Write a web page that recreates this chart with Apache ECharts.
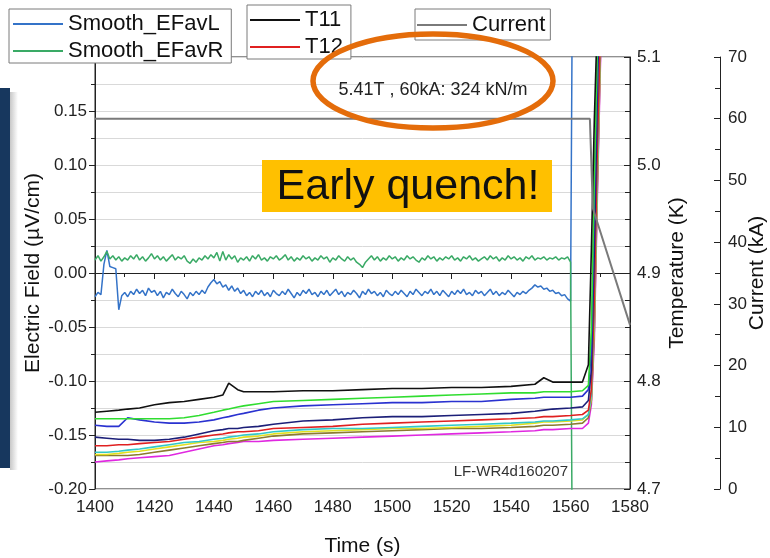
<!DOCTYPE html>
<html>
<head>
<meta charset="utf-8">
<script src="https://cdn.jsdelivr.net/npm/echarts@6/dist/echarts.min.js"></script>
<style>
html,body{margin:0;padding:0;background:#fff;}
#c{width:770px;height:558px;}
</style>
</head>
<body>
<div id="c"></div>
<script>
// ---- Data ----
// Electric field sampling times (s)
const eTime = [
1400,1401,1402,1403,1404,1405,1406,1407,1408,1409,
1410,1411,1412,1413,1414,1415,1416,1417,1418,1419,
1420,1421,1422,1423,1424,1425,1426,1427,1428,1429,
1430,1431,1432,1433,1434,1435,1436,1437,1438,1439,
1440,1441,1442,1443,1444,1445,1446,1447,1448,1449,
1450,1451,1452,1453,1454,1455,1456,1457,1458,1459,
1460,1461,1462,1463,1464,1465,1466,1467,1468,1469,
1470,1471,1472,1473,1474,1475,1476,1477,1478,1479,
1480,1481,1482,1483,1484,1485,1486,1487,1488,1489,
1490,1491,1492,1493,1494,1495,1496,1497,1498,1499,
1500,1501,1502,1503,1504,1505,1506,1507,1508,1509,
1510,1511,1512,1513,1514,1515,1516,1517,1518,1519,
1520,1521,1522,1523,1524,1525,1526,1527,1528,1529,
1530,1531,1532,1533,1534,1535,1536,1537,1538,1539,
1540,1541,1542,1543,1544,1545,1546,1547,1548,1549,
1550,1551,1552,1553,1554,1555,1556,1557,1558,1559,
1560,1561.3];
// Smooth_EFavL (µV/cm)
const efL = [
-0.022,-0.018,-0.020,0.008,0.021,0.006,0.005,0.004,-0.034,-0.021,
-0.018,-0.022,-0.017,-0.020,-0.015,-0.019,-0.016,-0.021,-0.014,-0.018,
-0.016,-0.021,-0.017,-0.023,-0.018,-0.020,-0.015,-0.019,-0.022,-0.017,
-0.020,-0.024,-0.018,-0.021,-0.017,-0.020,-0.016,-0.019,-0.013,-0.009,
-0.006,-0.010,-0.008,-0.013,-0.011,-0.016,-0.012,-0.017,-0.014,-0.019,
-0.016,-0.021,-0.018,-0.022,-0.017,-0.020,-0.016,-0.021,-0.018,-0.022,
-0.016,-0.019,-0.021,-0.017,-0.020,-0.015,-0.019,-0.023,-0.018,-0.021,
-0.016,-0.019,-0.015,-0.020,-0.018,-0.022,-0.017,-0.020,-0.016,-0.021,
-0.018,-0.015,-0.020,-0.017,-0.022,-0.018,-0.020,-0.016,-0.019,-0.023,
-0.017,-0.020,-0.015,-0.019,-0.017,-0.021,-0.018,-0.022,-0.016,-0.019,
-0.021,-0.017,-0.020,-0.016,-0.019,-0.022,-0.017,-0.020,-0.015,-0.018,
-0.021,-0.017,-0.019,-0.015,-0.020,-0.017,-0.021,-0.016,-0.019,-0.022,
-0.017,-0.020,-0.016,-0.019,-0.015,-0.020,-0.018,-0.021,-0.016,-0.019,
-0.017,-0.021,-0.018,-0.015,-0.020,-0.017,-0.021,-0.018,-0.020,-0.016,
-0.019,-0.022,-0.018,-0.020,-0.017,-0.019,-0.016,-0.014,-0.011,-0.013,
-0.012,-0.015,-0.014,-0.017,-0.016,-0.019,-0.018,-0.021,-0.020,-0.024,
-0.026,0.6];
// Smooth_EFavR (µV/cm)
const efR = [
0.012,0.016,0.011,0.015,0.020,0.013,0.016,0.012,0.015,0.011,
0.014,0.012,0.016,0.013,0.017,0.012,0.015,0.011,0.014,0.018,
0.013,0.016,0.012,0.015,0.011,0.014,0.017,0.012,0.015,0.013,
0.016,0.011,0.009,0.013,0.010,0.014,0.012,0.016,0.013,0.017,
0.014,0.019,0.011,0.020,0.012,0.017,0.013,0.016,0.010,0.014,
0.012,0.015,0.011,0.016,0.013,0.017,0.012,0.014,0.011,0.015,
0.013,0.016,0.012,0.014,0.017,0.012,0.015,0.011,0.014,0.012,
0.016,0.013,0.015,0.011,0.014,0.012,0.016,0.013,0.015,0.010,
0.014,0.012,0.016,0.013,0.011,0.015,0.012,0.014,0.010,0.008,
0.005,0.010,0.013,0.016,0.012,0.015,0.011,0.014,0.012,0.016,
0.013,0.015,0.011,0.014,0.012,0.016,0.013,0.015,0.012,0.010,
0.014,0.012,0.016,0.013,0.015,0.011,0.014,0.012,0.015,0.013,
0.016,0.012,0.014,0.011,0.015,0.013,0.016,0.012,0.014,0.011,
0.013,0.015,0.012,0.016,0.013,0.015,0.011,0.014,0.012,0.016,
0.013,0.015,0.012,0.014,0.011,0.015,0.013,0.016,0.012,0.014,
0.013,0.015,0.012,0.014,0.013,0.015,0.012,0.014,0.013,0.015,
0.010,-0.6];

// Temperature sampling times (s)
const tTime = [1400,1404,1408,1411,1415,1420,1425,1430,1435,1440,1443,1445,1448,1450,1455,1460,1470,1480,1490,1500,1510,1520,1530,1540,1548,1551,1554,1560,1564,1566,1567,1568,1569,1570,1572];
// Temperatures (K)
const tT11 = [4.771,4.772,4.773,4.774,4.775,4.778,4.780,4.781,4.783,4.785,4.787,4.798,4.792,4.790,4.790,4.790,4.791,4.791,4.792,4.793,4.793,4.794,4.794,4.795,4.797,4.803,4.799,4.799,4.799,4.815,4.921,5.042,5.134,5.245,5.430];
const tGreen = [4.765,4.765,4.765,4.765,4.765,4.765,4.765,4.766,4.768,4.771,4.773,4.774,4.776,4.777,4.779,4.781,4.782,4.783,4.784,4.785,4.786,4.787,4.788,4.789,4.789,4.790,4.790,4.790,4.791,4.796,4.847,4.986,5.106,5.227,5.430];
const tBlue = [4.759,4.758,4.758,4.766,4.764,4.762,4.761,4.761,4.762,4.764,4.766,4.767,4.769,4.770,4.773,4.775,4.777,4.778,4.779,4.780,4.780,4.781,4.781,4.783,4.784,4.785,4.785,4.785,4.786,4.792,4.829,4.968,5.088,5.208,5.430];
const tNavy = [4.748,4.747,4.746,4.746,4.745,4.745,4.746,4.748,4.751,4.754,4.755,4.756,4.756,4.757,4.758,4.760,4.763,4.764,4.766,4.767,4.767,4.768,4.769,4.770,4.772,4.773,4.774,4.775,4.776,4.782,4.810,4.921,5.060,5.190,5.430];
const tT12 = [4.740,4.740,4.741,4.741,4.742,4.743,4.744,4.746,4.748,4.750,4.751,4.752,4.753,4.753,4.754,4.756,4.757,4.758,4.760,4.761,4.762,4.763,4.764,4.765,4.766,4.767,4.767,4.768,4.769,4.773,4.792,4.875,5.014,5.116,5.292];
const tCyan = [4.734,4.734,4.735,4.736,4.737,4.739,4.741,4.743,4.744,4.746,4.747,4.748,4.749,4.750,4.751,4.753,4.755,4.756,4.756,4.757,4.758,4.759,4.760,4.761,4.762,4.763,4.763,4.764,4.765,4.769,4.787,4.866,4.995,5.116,5.292];
const tYellow = [4.732,4.732,4.733,4.734,4.735,4.737,4.739,4.741,4.743,4.744,4.745,4.746,4.747,4.748,4.749,4.751,4.753,4.754,4.755,4.756,4.756,4.757,4.758,4.759,4.761,4.762,4.762,4.763,4.764,4.769,4.784,4.856,4.986,5.106,5.292];
const tOlive = [4.731,4.731,4.731,4.731,4.732,4.734,4.736,4.738,4.740,4.742,4.743,4.744,4.744,4.745,4.747,4.749,4.751,4.752,4.753,4.754,4.755,4.756,4.756,4.757,4.758,4.759,4.759,4.760,4.761,4.766,4.782,4.847,4.977,5.097,5.292];
const tMagenta = [4.725,4.726,4.727,4.728,4.729,4.730,4.731,4.734,4.737,4.740,4.741,4.742,4.743,4.744,4.744,4.745,4.746,4.747,4.748,4.749,4.750,4.751,4.752,4.753,4.754,4.755,4.755,4.756,4.756,4.761,4.778,4.838,4.968,5.088,5.292];

// Current (kA)
const curTime = [1400, 1566.5, 1567.5, 1580];
const curVal = [60, 60, 45.5, 26.6];

// Axis tick settings
const xTicks = {min: 1400, max: 1580, step: 20};
const fieldTicks = {min: -0.2, max: 0.2, step: 0.05};
const tempTicks = {min: 4.7, max: 5.1, step: 0.1};
const curTicks = {min: 0, max: 70, step: 10};

// ---- Chart ----
const FONT = '"Liberation Sans", Arial, sans-serif';
const zip = (xs, ys) => xs.map((x, i) => [x, ys[i]]);
const chart = echarts.init(document.getElementById('c'), null, {renderer: 'canvas'});

function tSeries(name, color, vals) {
  return {name: name, type: 'line', yAxisIndex: 1, data: zip(tTime, vals), color: color,
    showSymbol: false, symbol: 'none', lineStyle: {width: 1.6, color: color}, clip: true, animation: false};
}

const legendBase = {
  orient: 'vertical', icon: 'rect', itemWidth: 50, itemHeight: 2, itemGap: 5,
  backgroundColor: '#fff', borderColor: '#7a7a7a', borderWidth: 1, borderRadius: 0,
  textStyle: {fontSize: 22, lineHeight: 22, color: '#111', fontFamily: FONT},
  selectedMode: false, z: 10
};

const option = {
  backgroundColor: '#fff',
  animation: false,
  textStyle: {fontFamily: FONT},
  grid: {left: 95, right: 140, top: 57, bottom: 69, show: true, borderColor: '#222', borderWidth: 1,
    backgroundColor: 'transparent', containLabel: false, outerBoundsMode: 'none'},
  legend: [
    Object.assign({}, legendBase, {left: 9, top: 9, padding: [4, 8, 1, 4], data: ['Smooth_EFavL', 'Smooth_EFavR']}),
    Object.assign({}, legendBase, {left: 247, top: 5, padding: [4, 8, 1, 3], data: ['T11', 'T12']}),
    Object.assign({}, legendBase, {left: 415, top: 9, padding: [5, 5, 4, 2], data: ['Current']})
  ],
  xAxis: {
    type: 'value', min: xTicks.min, max: xTicks.max, interval: xTicks.step,
    name: 'Time (s)', nameLocation: 'middle', nameGap: 47, nameMoveOverlap: false,
    nameTextStyle: {fontSize: 21, color: '#111', fontFamily: FONT},
    axisLine: {show: true, lineStyle: {color: '#222', width: 1}},
    axisTick: {show: true, inside: false, length: 6, lineStyle: {color: '#222'}},
    minorTick: {show: true, splitNumber: 2, length: 4, lineStyle: {color: '#222'}},
    axisLabel: {fontSize: 17, color: '#222', margin: 10, fontFamily: FONT, formatter: v => String(v)},
    splitLine: {show: false}
  },
  yAxis: [
    {
      type: 'value', position: 'left', min: fieldTicks.min, max: fieldTicks.max, interval: fieldTicks.step,
      name: 'Electric Field (\u00b5V/cm)', nameLocation: 'middle', nameGap: 51, nameRotate: 90, nameMoveOverlap: false,
      nameTextStyle: {fontSize: 21, color: '#111', fontFamily: FONT},
      axisLine: {show: true, lineStyle: {color: '#222'}},
      axisTick: {show: true, inside: false, length: 6, lineStyle: {color: '#222'}},
      minorTick: {show: true, splitNumber: 2, length: 4, lineStyle: {color: '#222'}},
      axisLabel: {fontSize: 17, color: '#222', margin: 8, fontFamily: FONT, showMaxLabel: false,
        formatter: v => v.toFixed(2)},
      splitLine: {show: true, lineStyle: {color: '#d9d9d9', width: 1}},
      minorSplitLine: {show: true, lineStyle: {color: '#d9d9d9', width: 1}}
    },
    {
      type: 'value', position: 'right', min: tempTicks.min, max: tempTicks.max, interval: tempTicks.step,
      name: 'Temperature (K)', nameLocation: 'middle', nameGap: 37, nameRotate: 90, nameMoveOverlap: false,
      nameTextStyle: {fontSize: 21, color: '#111', fontFamily: FONT},
      axisLine: {show: true, lineStyle: {color: '#222'}},
      axisTick: {show: true, inside: true, length: 6, lineStyle: {color: '#222'}},
      minorTick: {show: true, splitNumber: 4, length: 5, lineStyle: {color: '#222'}},
      axisLabel: {fontSize: 17, color: '#222', margin: 7, fontFamily: FONT, formatter: v => v.toFixed(1)},
      splitLine: {show: false}
    },
    {
      type: 'value', position: 'right', offset: 90, min: curTicks.min, max: curTicks.max, interval: curTicks.step,
      name: 'Current (kA)', nameLocation: 'middle', nameGap: 27, nameRotate: 90, nameMoveOverlap: false,
      nameTextStyle: {fontSize: 21, color: '#111', fontFamily: FONT},
      axisLine: {show: true, lineStyle: {color: '#222'}},
      axisTick: {show: true, inside: true, length: 6, lineStyle: {color: '#222'}},
      minorTick: {show: true, splitNumber: 2, length: 5, lineStyle: {color: '#222'}},
      axisLabel: {fontSize: 17, color: '#222', margin: 8, fontFamily: FONT, formatter: v => String(v)},
      splitLine: {show: false}
    }
  ],
  series: [
    {name: 'Smooth_EFavL', type: 'line', yAxisIndex: 0, data: zip(eTime, efL), color: '#3473c8',
      showSymbol: false, symbol: 'none', lineStyle: {width: 1.5, color: '#3473c8'}, clip: true},
    {name: 'Smooth_EFavR', type: 'line', yAxisIndex: 0, data: zip(eTime, efR), color: '#3aaa66',
      showSymbol: false, symbol: 'none', lineStyle: {width: 1.5, color: '#3aaa66'}, clip: true},
    tSeries('T19', '#e028e0', tMagenta),
    tSeries('T18', '#8a7a30', tOlive),
    tSeries('T17', '#e2e020', tYellow),
    tSeries('T16', '#30c8c8', tCyan),
    tSeries('T12', '#e02020', tT12),
    tSeries('T15', '#1c1f78', tNavy),
    tSeries('T14', '#2a32d0', tBlue),
    tSeries('T13', '#30dd30', tGreen),
    tSeries('T11', '#111111', tT11),
    {name: 'Current', type: 'line', yAxisIndex: 2, data: zip(curTime, curVal), color: '#7a7a7a',
      showSymbol: false, symbol: 'none', lineStyle: {width: 2, color: '#7a7a7a'}, clip: true}
  ],
  graphic: [
    {type: 'rect', left: 0, top: 88, shape: {width: 10, height: 380}, style: {fill: '#17375e'}, z: 100},
    {type: 'rect', left: 10, top: 92, shape: {width: 8, height: 378},
      style: {fill: new echarts.graphic.LinearGradient(0, 0, 1, 0, [{offset: 0, color: 'rgba(0,0,0,0.22)'}, {offset: 1, color: 'rgba(0,0,0,0)'}])}, z: 99},
    {type: 'ellipse', shape: {cx: 433, cy: 81, rx: 120, ry: 47}, style: {fill: 'none', stroke: '#e46c0a', lineWidth: 5.5}, z: 100},
    {type: 'text', x: 433, y: 90, style: {text: '5.41T , 60kA: 324 kN/m', fontSize: 18, fill: '#222', fontFamily: FONT, textAlign: 'center', textVerticalAlign: 'middle'}, z: 101},
    {type: 'rect', left: 262, top: 160, shape: {width: 290, height: 52}, style: {fill: '#ffc000'}, z: 100},
    {type: 'text', x: 408, y: 187, style: {text: 'Early quench!', fontSize: 43, fill: '#111', fontFamily: FONT, textAlign: 'center', textVerticalAlign: 'middle'}, z: 101},
    {type: 'text', x: 568, y: 472, style: {text: 'LF-WR4d160207', fontSize: 15, fill: '#333', fontFamily: FONT, textAlign: 'right', textVerticalAlign: 'middle'}, z: 101}
  ]
};
chart.setOption(option);
</script>
</body>
</html>
